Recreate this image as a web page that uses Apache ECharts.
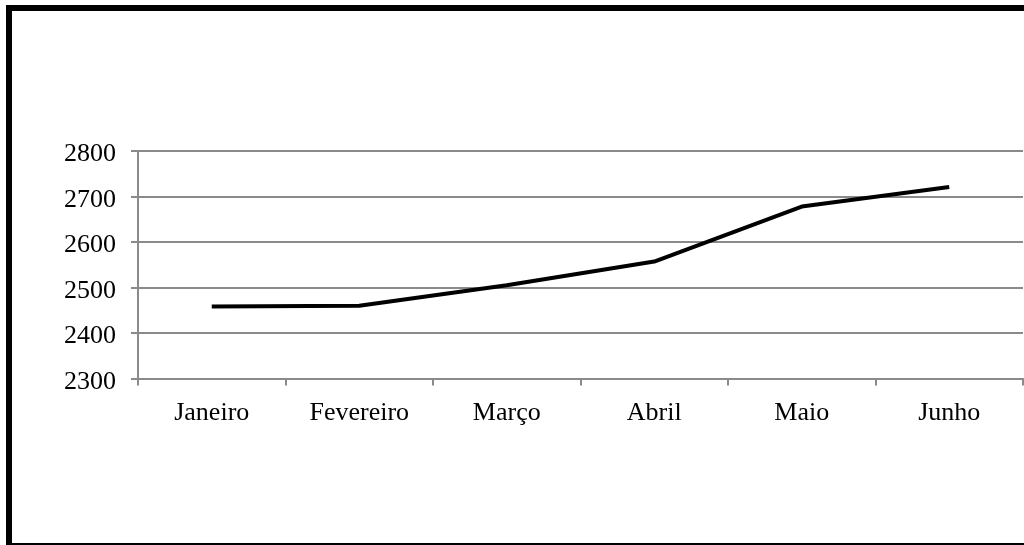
<!DOCTYPE html>
<html>
<head>
<meta charset="utf-8">
<script src="https://cdn.jsdelivr.net/npm/echarts@6/dist/echarts.min.js"></script>
<style>
html,body{margin:0;padding:0;background:#fff;}
#chart{width:1024px;height:545px;}
</style>
</head>
<body>
<div id="chart"></div>
<script>
var categories = ['Janeiro', 'Fevereiro', 'Março', 'Abril', 'Maio', 'Junho'];
var values = [2458, 2460, 2505, 2557, 2678, 2721];
var yMin = 2300, yMax = 2800, yStep = 100;

var gridColor = '#8a8a8a';
var fontFam = '"Liberation Serif", "Times New Roman", serif';

var chart = echarts.init(document.getElementById('chart'), null, {renderer: 'canvas'});
chart.setOption({
  animation: false,
  backgroundColor: '#fff',
  graphic: [{
    type: 'rect',
    shape: {x: 9, y: 8, width: 1040, height: 538},
    style: {fill: 'none', stroke: '#000', lineWidth: 6},
    silent: true,
    z: 100
  }],
  grid: {left: 138, top: 151, width: 885, height: 227.5, containLabel: false},
  xAxis: {
    type: 'category',
    data: categories,
    boundaryGap: true,
    axisLine: {show: true, lineStyle: {color: gridColor, width: 2}},
    axisTick: {show: true, length: 7, lineStyle: {color: gridColor, width: 2}, alignWithLabel: false},
    axisLabel: {color: '#000', fontFamily: fontFam, fontSize: 26, margin: 22, interval: 0},
    splitLine: {show: false}
  },
  yAxis: {
    type: 'value',
    min: yMin, max: yMax, interval: yStep,
    axisLine: {show: true, lineStyle: {color: gridColor, width: 2}},
    axisTick: {show: true, length: 7, lineStyle: {color: gridColor, width: 2}},
    axisLabel: {
      color: '#000', fontFamily: fontFam, fontSize: 26, margin: 22,
      formatter: function (v) { return '{s| }\n{v|' + v + '}'; },
      rich: {
        s: {fontSize: 4, lineHeight: 7},
        v: {fontFamily: fontFam, fontSize: 26, lineHeight: 28, color: '#000'}
      }
    },
    splitLine: {show: true, lineStyle: {color: gridColor, width: 2}}
  },
  series: [{
    type: 'line',
    data: values,
    symbol: 'none',
    lineStyle: {color: '#000', width: 4},
    z: 10
  }]
});
</script>
</body>
</html>
